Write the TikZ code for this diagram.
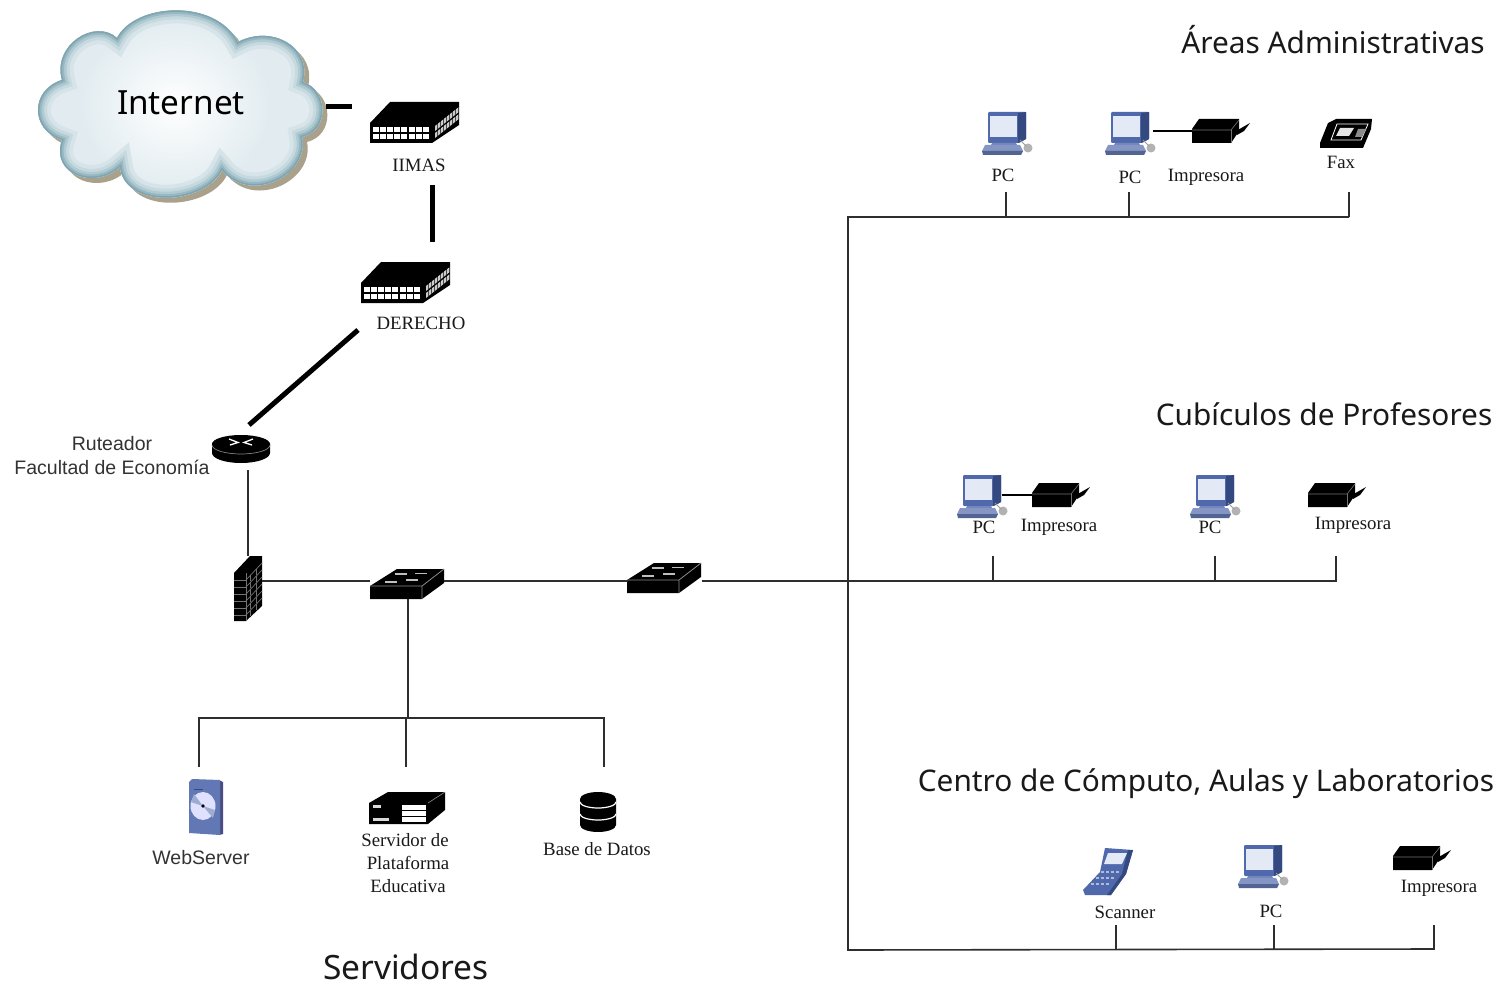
\documentclass[tikz,border=0pt]{standalone}
\usepackage{fontspec}
\setmainfont{Liberation Serif}
\newfontfamily\arialf{Liberation Sans}
\newfontfamily\headf{Noto Sans}
\definecolor{wire}{HTML}{2E2E2E}
\definecolor{pcblue}{HTML}{5069AC}
\definecolor{pcdark}{HTML}{34497F}
\definecolor{pclight}{HTML}{E3E9F5}
\definecolor{cloudbody}{HTML}{E2ECF0}
\definecolor{cloudshadow}{HTML}{A9A18C}
\definecolor{cedgea}{HTML}{D6E4E9}
\definecolor{cedgeb}{HTML}{C6D9DF}
\definecolor{cedgec}{HTML}{B0CAD2}
\definecolor{cedged}{HTML}{97B8C2}
\definecolor{cedgee}{HTML}{7FA5B1}
\def\cloudpath{(62,80) .. controls (52,45) and (95,18) .. (117,38) .. controls (135,3) and (215,-2) .. (238,42) .. controls (270,25) and (312,45) .. (303,82) .. controls (328,90) and (330,130) .. (302,137) .. controls (310,175) and (250,205) .. (222,170) .. controls (205,205) and (125,210) .. (120,167) .. controls (95,190) and (50,175) .. (62,140) .. controls (30,130) and (30,90) .. (62,80) -- cycle}
\tikzset{
  x=1pt,y=-1pt,
  thickwire/.style={line width=5pt,black},
  thinwire/.style={line width=1.6pt,wire},
  iconbox/.style={inner sep=0pt,outer sep=0pt,minimum width=#1},
  lab/.style={inner sep=0pt,font=\fontsize{18.8}{20}\selectfont,text=black!90},
  arial/.style={inner sep=0pt,font=\arialf\fontsize{19.5}{23}\selectfont,align=center,text=black!80},
  head/.style={inner sep=0pt,font=\headf\fontsize{29.8}{32}\selectfont,text=black!90},
  pics/hubicon/.style={code={
    \fill[black] (0,22)--(20,1)--(89,1)--(89,24)--(62,42)--(0,42)--cycle;
    \foreach \i in {0,...,7}{\fill[white] (2.5+7.2*\i,26) rectangle ++(6,5); \fill[white] (2.5+7.2*\i,33) rectangle ++(6,5);}
    \foreach \i in {0,...,7}{\fill[white!80!black] (65+3*\i,25-2.4*\i) -- ++(2.4,-1.9) -- ++(0,5) -- ++(-2.4,1.9) -- cycle; \fill[white!80!black] (65+3*\i,32-2.4*\i) -- ++(2.4,-1.9) -- ++(0,5) -- ++(-2.4,1.9) -- cycle;}
  }},
  pics/pcicon/.style={code={
    \fill[pcblue,rounded corners=1pt] (6,0)--(44,0)--(44,27)--(37,31)--(6,31)--cycle;
    \fill[pcdark] (36,1)--(44,0)--(44,27)--(36,31)--cycle;
    \fill[pclight] (8,4)--(35,4)--(35,25)--(8,25)--cycle;
    \fill[pcblue!80!white] (10,31)--(34,31)--(36,35)--(8,35)--cycle;
    \fill[pcblue!70!white] (3,33)--(38,33)--(41,39)--(0,39)--cycle;
    \fill[pcdark!85!white] (0,39)--(41,39)--(39,43)--(1,43)--cycle;
    \fill[black!30] (46,36) circle (4.5);
    \draw[black!40,line width=1pt] (44,34)--(38,28);
  }},
  pics/printericon/.style={code={
    \fill[black] (44,12)--(58,4)--(52,12)--(45,16)--cycle;
    \fill[black] (0,10)--(7,0)--(47,0)--(47,12)--(39,24)--(0,24)--cycle;
    \draw[black!55,line width=.6pt] (0,11)--(39,11)--(47,1);
    \draw[black!55,line width=.6pt] (39,11)--(39,24);
  }},
  pics/faxicon/.style={code={
    \fill[black] (0,29)--(0,24)--(8,4)--(16,0)--(52,0)--(51,10)--(43,29)--cycle;
    \draw[white,line width=.8pt] (17,5)--(48,5)--(41,21)--(11,21)--cycle;
    \fill[white!90!black] (20,9)--(34,9)--(29,17)--(16,17)--cycle;
    \fill[black!45] (38,10)--(46,10)--(42,18)--(35,18)--cycle;
  }},
  pics/routericon/.style={code={
    \fill[black] (0,9) -- (0,18) arc[x radius=29,y radius=10,start angle=180,end angle=0] -- (58,9) -- cycle;
    \fill[black] (29,9) ellipse[x radius=29,y radius=9];
    \draw[black!50,line width=.7pt] (0,10) arc[x radius=29,y radius=9,start angle=180,end angle=0];
    \draw[white,line width=1.3pt] (17,4)--(26,7.5)--(18,10) (41,4)--(32,7.5)--(40,10);
  }},
  pics/firewallicon/.style={code={
    \fill[black] (0,17)--(16,0)--(28,0)--(28,50)--(12,65)--(0,65)--cycle;
    \foreach \y in {24,31,38,45,52,59}{\draw[black!55,line width=.7pt] (0,\y)--(12,\y);}
    \draw[black!55,line width=.7pt] (12,17)--(12,65);
    \foreach \y in {7,14,21,28,35,42}{\draw[black!55,line width=.7pt] (12,\y+17)--(28,\y);}
    \foreach \i in {0,1,2,3,4,5}{\draw[black!55,line width=.6pt] (16,19+7*\i)--(16,25+7*\i) (22,13+7*\i)--(22,19+7*\i);}
  }},
  pics/switchicon/.style={code={
    \fill[black] (0,17)--(27,0)--(74,0)--(74,14)--(52,30)--(0,30)--cycle;
    \draw[black!45,line width=.8pt] (0,17)--(52,17)--(74,0) (52,17)--(52,30);
    \draw[white!75!black,line width=1.8pt] (25,5)--(37,5) (45,4.5)--(57,4.5) (15,13)--(27,13) (36,11)--(48,11);
  }},
  pics/webicon/.style={code={
    \fill[black!45!blue!40!gray] (30,1)--(34,3)--(34,55)--(30,56)--cycle;
    \fill[pcblue!90!white] (0,3)--(3,0)--(31,1)--(31,56)--(0,54)--cycle;
    \fill[white!88!blue] (14,27) ellipse[x radius=12.5,y radius=14];
    \fill[pcblue!55!white] (14,27)--(5,15)--(2,23)--cycle (14,27)--(24,39)--(26,31)--cycle;
    \fill[black] (14,27) circle (1.8);
    \draw[pcdark,line width=.7pt] (5,10)--(14,10);
  }},
  pics/servericon/.style={code={
    \fill[black] (0,11)--(19,0)--(76,0)--(76,18)--(59,32)--(0,32)--cycle;
    \draw[black!50,line width=.7pt] (59,11)--(76,0);
    \fill[white] (33,13) rectangle (57,30);
    \draw[black,line width=.8pt] (33,18)--(57,18) (33,24)--(57,24);
    \fill[white!85!black] (4,13) rectangle (12,16);
    \fill[white!85!black] (4,26) rectangle (20,29);
  }},
  pics/dbicon/.style={code={
    \fill[black] (0,7) arc[x radius=18,y radius=7,start angle=180,end angle=360] -- (36,33) arc[x radius=18,y radius=7,start angle=0,end angle=180] -- cycle;
    \draw[white,line width=1.2pt] (0,10) arc[x radius=18,y radius=6,start angle=180,end angle=0];
    \draw[white,line width=1.2pt] (0,22) arc[x radius=18,y radius=6,start angle=180,end angle=0];
  }},
  pics/scannericon/.style={code={
    \fill[pcblue] (22,0)--(50,2)--(43,26)--(28,47)--(2,47)--(0,42)--(17,24)--cycle;
    \fill[pcdark] (50,2)--(43,26)--(28,47)--(24,47)--(39,26)--(45,2)--cycle;
    \fill[pclight] (25,5)--(44,5)--(39,16)--(21,16)--cycle;
    \foreach \i in {0,1,2}{\draw[pcblue!45!white,line width=1.3pt,dash pattern=on 3pt off 2pt] (18-5*\i,24+6*\i)--(36-5*\i,24+6*\i);}
  }},
}
\begin{document}
\begin{tikzpicture}
\useasboundingbox (0,0) rectangle (1501,987);
\fill[white] (0,0) rectangle (1501,987);

% cloud
\begin{scope}[shift={(5,5)}]
  \fill[cloudshadow] \cloudpath;
\end{scope}
\begin{scope}
  \clip \cloudpath;
  \fill[cloudbody] (30,0) rectangle (340,210);
  \shade[inner color=white,outer color=cloudbody] (175,105) ellipse[x radius=95,y radius=85];
  \draw[cedgea,line width=26pt] \cloudpath;
  \draw[cedgeb,line width=18pt] \cloudpath;
  \draw[cedgec,line width=12pt] \cloudpath;
  \draw[cedged,line width=7pt] \cloudpath;
  \draw[cedgee,line width=3pt] \cloudpath;
\end{scope}
\node[inner sep=0pt,minimum width=283pt,minimum height=190pt] (inet) at (181.5,105) {};
\node[inner sep=0pt,font=\headf\fontsize{33.3}{35}\selectfont,text=black] (inetlab) at (181,103) {Internet};

% icons with named bounding nodes
\pic at (370,101) {hubicon};
\node[iconbox=89pt,minimum height=42pt] (iimas) at (414.5,122) {};
\pic at (361,261) {hubicon};
\node[iconbox=89pt,minimum height=42pt] (derecho) at (405.5,282) {};
\pic at (212,435) {routericon};
\node[iconbox=58pt,minimum height=28pt] (router) at (241,449) {};
\pic at (234,556) {firewallicon};
\node[iconbox=28pt,minimum height=65pt] (firewall) at (248,588.5) {};
\pic at (370,569) {switchicon};
\node[iconbox=74pt,minimum height=30pt] (swa) at (407,584) {};
\pic at (627,563) {switchicon};
\node[iconbox=74pt,minimum height=30pt] (swb) at (664,578) {};
\pic at (189,779) {webicon};
\node[iconbox=34pt,minimum height=56pt] (web) at (206,807) {};
\pic at (369,792) {servericon};
\node[iconbox=76pt,minimum height=32pt] (plat) at (407,808) {};
\pic at (580,792) {dbicon};
\node[iconbox=36pt,minimum height=40pt] (db) at (598,812) {};
\pic at (982,112) {pcicon};
\node[iconbox=51pt,minimum height=43pt] (pca) at (1007.5,133.5) {};
\pic at (1105,112) {pcicon};
\node[iconbox=51pt,minimum height=43pt] (pcb) at (1130.5,133.5) {};
\pic at (1192,119) {printericon};
\node[iconbox=58pt,minimum height=24pt] (pra) at (1221,131) {};
\pic at (1320,119) {faxicon};
\node[iconbox=52pt,minimum height=29pt] (fax) at (1346,133.5) {};
\pic at (1190,475) {pcicon};
\node[iconbox=51pt,minimum height=43pt] (pcd) at (1215.5,496.5) {};
\pic at (957,475) {pcicon};
\node[iconbox=51pt,minimum height=43pt] (pcc) at (982.5,496.5) {};
\pic at (1032,483) {printericon};
\node[iconbox=58pt,minimum height=24pt] (prb) at (1061,495) {};
\pic at (1308,483) {printericon};
\node[iconbox=58pt,minimum height=24pt] (prc) at (1337,495) {};
\pic at (1083,848) {scannericon};
\node[iconbox=50pt,minimum height=48pt] (scan) at (1108,872) {};
\pic at (1238,845) {pcicon};
\node[iconbox=51pt,minimum height=43pt] (pce) at (1263.5,866.5) {};
\pic at (1393,846) {printericon};
\node[iconbox=58pt,minimum height=24pt] (prd) at (1422,858) {};

% labels
\node[lab] (lIimas) at (419,165) {IIMAS};
\node[lab] (lDer) at (421,323) {DERECHO};
\node[arial] (lRout) at (112,456) {Ruteador\\[1pt]Facultad de Economía};
\node[arial] (lWeb) at (201,858) {WebServer};
\node[lab] (lPlata) at (405,840) {Servidor de};
\node[lab] (lPlatb) at (408,863) {Plataforma};
\node[lab] (lPlatc) at (408,886) {Educativa};
\node[lab] (lDb) at (597,849) {Base de Datos};
\node[head,font=\headf\fontsize{33.5}{35}\selectfont] (hServ) at (406,967) {Servidores};
\node[head] (hAreas) at (1333,40) {Áreas Administrativas};
\node[lab] (lPca) at (1003,175) {PC};
\node[lab] (lPcb) at (1130,177) {PC};
\node[lab] (lPra) at (1206,177) {Impresora};
\node[lab] (lFax) at (1341,162) {Fax};
\node[head] (hCub) at (1324,414) {Cubículos de Profesores};
\node[lab] (lPcc) at (984,527) {PC};
\node[lab] (lPrb) at (1059,527) {Impresora};
\node[lab] (lPcd) at (1210,527) {PC};
\node[lab] (lPrc) at (1353,525) {Impresora};
\node[head] (hCen) at (1206,784) {Centro de Cómputo, Aulas y Laboratorios};
\node[lab] (lScan) at (1125,912) {Scanner};
\node[lab] (lPce) at (1271,911) {PC};
\node[lab] (lPrd) at (1439,888) {Impresora};

% connector ends
\coordinate (a1) at (326,107); \coordinate (a2) at (352,107);
\coordinate (b1) at (432,185); \coordinate (b2) at (432,242);
\coordinate (c1) at (358,330); \coordinate (c2) at (249,425);
\coordinate (d1) at (248,470); \coordinate (d2) at (248,556);
\coordinate (e1) at (262,581); \coordinate (e2) at (370,581);
\coordinate (e3) at (444,581); \coordinate (e4) at (628,581);
\coordinate (e5) at (702,581); \coordinate (e6) at (1336,581);
\coordinate (f1) at (408,599); \coordinate (f2) at (408,718);
\coordinate (g1) at (199,718); \coordinate (g2) at (604,718);
\coordinate (g3) at (199,767); \coordinate (g4) at (406,767); \coordinate (g5) at (604,767);
\coordinate (g6) at (406,718);
\coordinate (h1) at (848,217); \coordinate (h2) at (1349,217); \coordinate (h3) at (848,950); \coordinate (h4) at (1434,949);
\coordinate (i1) at (1006,192); \coordinate (i2) at (1006,217);
\coordinate (i3) at (1129,192); \coordinate (i4) at (1129,217);
\coordinate (i5) at (1349,192);
\coordinate (j1) at (993,556); \coordinate (j2) at (993,581);
\coordinate (j3) at (1215,556); \coordinate (j4) at (1215,581);
\coordinate (j5) at (1336,556);
\coordinate (k1) at (1116,925); \coordinate (k2) at (1116,950);
\coordinate (k3) at (1274,925); \coordinate (k4) at (1274,950);
\coordinate (k5) at (1434,925);
\coordinate (m1) at (1153,131); \coordinate (m2) at (1192,131);
\coordinate (m3) at (1002,495); \coordinate (m4) at (1032,495);

% thick links
\draw[thickwire] (a1)--(a2);
\draw[thickwire] (b1)--(b2);
\draw[thickwire] (c1)--(c2);
% thin links
\draw[thinwire] (d1)--(d2);
\draw[thinwire] (e1)--(e2);
\draw[thinwire] (e3)--(e4);
\draw[thinwire] (e5)--(e6)--(j5);
\draw[thinwire] (f1)--(f2);
\draw[thinwire] (g3)--(g1)--(g2)--(g5);
\draw[thinwire] (g6)--(g4);
\draw[thinwire] (h2)--(h1)--(h3)--(h4)--(k5);
\draw[thinwire] (h2)--(i5);
\draw[thinwire] (i1)--(i2);
\draw[thinwire] (i3)--(i4);
\draw[thinwire] (j1)--(j2);
\draw[thinwire] (j3)--(j4);
\draw[thinwire] (k1)--(k2);
\draw[thinwire] (k3)--(k4);
\draw[thinwire,black] (m1)--(m2);
\draw[thinwire,black] (m3)--(m4);
\end{tikzpicture}
\end{document}
